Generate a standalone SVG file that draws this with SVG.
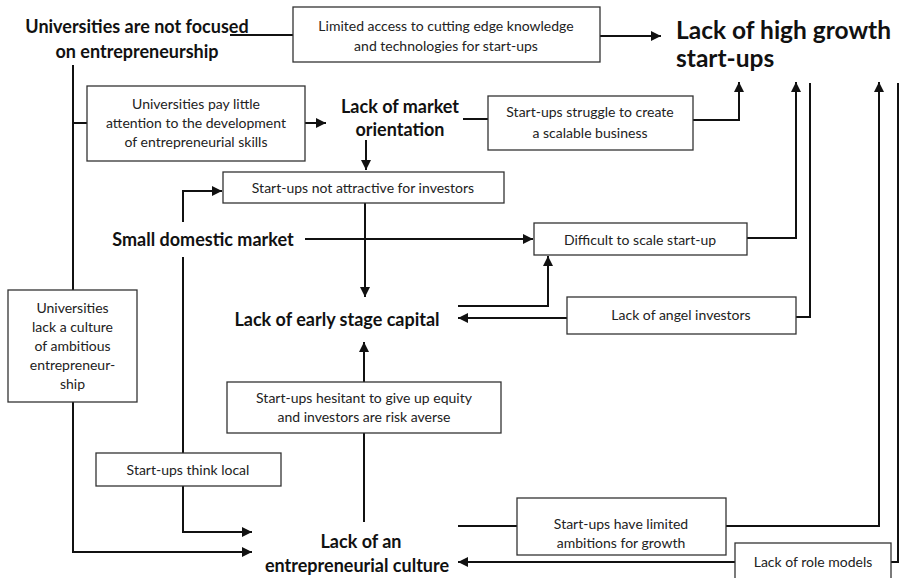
<svg xmlns="http://www.w3.org/2000/svg" width="902" height="578" viewBox="0 0 902 578">
<defs>
<marker id="ah" viewBox="0 0 10 10" refX="10" refY="5" markerWidth="11" markerHeight="10" markerUnits="userSpaceOnUse" orient="auto">
<path d="M0,0 L10,5 L0,10 z" fill="#111"/>
</marker>
<style>
.box{fill:#fff;stroke:#333;stroke-width:1.3}
.t{font-family:Lato,"Liberation Sans",sans-serif;font-size:14px;fill:#222;text-anchor:middle}
.b{font-family:Lato,"Liberation Sans",sans-serif;font-size:18px;font-weight:bold;fill:#111;text-anchor:middle}
.big{font-family:Lato,"Liberation Sans",sans-serif;font-size:24.5px;font-weight:bold;fill:#111}
.c{fill:none;stroke:#111;stroke-width:2}
.ca{fill:none;stroke:#111;stroke-width:2;marker-end:url(#ah)}
</style>
</defs>
<rect width="902" height="578" fill="#fff"/>
<g id="connectors">
<path class="c" d="M230,35 H293"/>
<path class="ca" d="M600,36 H661"/>
<path class="c" d="M73,65 V290"/>
<path class="c" d="M73,123 H87"/>
<path class="ca" d="M305,123 H326"/>
<path class="c" d="M463,119 H488"/>
<path class="ca" d="M693,120 H739 V82"/>
<path class="ca" d="M366,140 V170"/>
<path class="ca" d="M183,222 V191 H222"/>
<path class="ca" d="M305,239 H533"/>
<path class="ca" d="M365,203 V297"/>
<path class="ca" d="M747,238 H796 V82"/>
<path class="ca" d="M458,306 H548 V256"/>
<path class="ca" d="M567,318 H458"/>
<path class="c" d="M796,317 H810 V83"/>
<path class="c" d="M183,257 V453"/>
<path class="ca" d="M183,486 V532 H252"/>
<path class="ca" d="M73,402 V552 H252"/>
<path class="ca" d="M364,433 V342"/>
<path class="c" d="M364,522 V433"/>
<path class="c" d="M458,526 H517"/>
<path class="ca" d="M726,526 H879 V82"/>
<path class="ca" d="M735,562 H458"/>
<path class="c" d="M891,562 H898 V83"/>
</g>
<g id="n-univ-not-focused">
<text class="b" x="137" y="33">Universities are not focused</text>
<text class="b" x="137" y="58">on entrepreneurship</text>
</g>
<g id="n-limited-access">
<rect class="box" x="293" y="7" width="307" height="55"/>
<text class="t" x="446" y="31">Limited access to cutting edge knowledge</text>
<text class="t" x="446" y="51">and technologies for start-ups</text>
</g>
<g id="n-lack-high-growth">
<text class="big" x="676" y="39">Lack of high growth</text>
<text class="big" x="676" y="67">start-ups</text>
</g>
<g id="n-univ-little-attention">
<rect class="box" x="87" y="86" width="218" height="75"/>
<text class="t" x="196" y="109">Universities pay little</text>
<text class="t" x="196" y="128">attention to the development</text>
<text class="t" x="196" y="147">of entrepreneurial skills</text>
</g>
<g id="n-market-orientation">
<text class="b" x="400" y="113">Lack of market</text>
<text class="b" x="400" y="136">orientation</text>
</g>
<g id="n-struggle-scale">
<rect class="box" x="488" y="96" width="205" height="54"/>
<text class="t" x="590" y="117">Start-ups struggle to create</text>
<text class="t" x="590" y="138">a scalable business</text>
</g>
<g id="n-not-attractive">
<rect class="box" x="223" y="172" width="281" height="31"/>
<text class="t" x="363" y="193">Start-ups not attractive for investors</text>
</g>
<g id="n-small-market">
<text class="b" x="203" y="246">Small domestic market</text>
</g>
<g id="n-difficult-scale">
<rect class="box" x="534" y="223" width="213" height="32"/>
<text class="t" x="640" y="245">Difficult to scale start-up</text>
</g>
<g id="n-early-capital">
<text class="b" x="337" y="326">Lack of early stage capital</text>
</g>
<g id="n-angel">
<rect class="box" x="567" y="297" width="229" height="37"/>
<text class="t" x="681" y="320">Lack of angel investors</text>
</g>
<g id="n-univ-culture">
<rect class="box" x="8" y="290" width="129" height="112"/>
<text class="t" x="72.5" y="313">Universities</text>
<text class="t" x="72.5" y="332">lack a culture</text>
<text class="t" x="72.5" y="351">of ambitious</text>
<text class="t" x="72.5" y="370">entrepreneur-</text>
<text class="t" x="72.5" y="389">ship</text>
</g>
<g id="n-hesitant">
<rect class="box" x="227" y="382" width="274" height="51"/>
<text class="t" x="364" y="403">Start-ups hesitant to give up equity</text>
<text class="t" x="364" y="422">and investors are risk averse</text>
</g>
<g id="n-think-local">
<rect class="box" x="96" y="453" width="185" height="33"/>
<text class="t" x="188" y="475">Start-ups think local</text>
</g>
<g id="n-limited-ambitions">
<rect class="box" x="517" y="498" width="209" height="57"/>
<text class="t" x="621" y="529">Start-ups have limited</text>
<text class="t" x="621" y="548">ambitions for growth</text>
</g>
<g id="n-role-models">
<rect class="box" x="735" y="543" width="156" height="40"/>
<text class="t" x="813" y="567">Lack of role models</text>
</g>
<g id="n-entre-culture">
<text class="b" x="361" y="548">Lack of an</text>
<text class="b" x="357" y="572">entrepreneurial culture</text>
</g>
</svg>
